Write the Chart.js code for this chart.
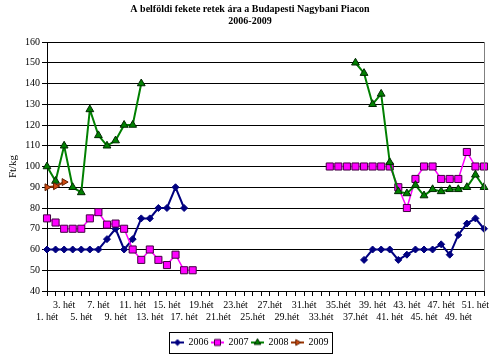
<!DOCTYPE html>
<html><head><meta charset="utf-8">
<script src="https://cdn.jsdelivr.net/npm/chart.js@4.4.0/dist/chart.umd.min.js"></script>
<style>html,body{margin:0;padding:0;background:#fff}#wrap{width:500px;height:358px}</style>
</head><body><div id="wrap"><canvas id="c" width="500" height="358"></canvas></div>
<script>
const titleLines = ["A belföldi fekete retek ára a Budapesti Nagybani Piacon", "2006-2009"];
const yTitle = "Ft/kg";
const weeks = ["1. hét","2. hét","3. hét","4. hét","5. hét","6. hét","7. hét","8. hét","9. hét","10. hét",
  "11. hét","12. hét","13. hét","14. hét","15. hét","16. hét","17. hét","18. hét","19.hét","20.hét",
  "21.hét","22.hét","23.hét","24.hét","25.hét","26.hét","27.hét","28.hét","29.hét","30.hét",
  "31.hét","32.hét","33.hét","34.hét","35.hét","36.hét","37.hét","38. hét","39. hét","40. hét",
  "41. hét","42. hét","43. hét","44. hét","45. hét","46. hét","47. hét","48. hét","49. hét","50. hét",
  "51. hét","52. hét"];
const seriesNames = ["2006","2007","2008","2009"];
const y2006 = [60,60,60,60,60,60,60,65,70,60,65,75,75,80,80,90,80,
  null,null,null,null,null,null,null,null,null,null,null,null,null,null,null,null,null,null,null,null,
  55,60,60,60,55,57.5,60,60,60,62.5,57.5,67,72.5,75,70];
const y2007 = [75,73,70,70,70,75,78,72,72.5,70,60,55,60,55,52.5,57.5,50,50,
  null,null,null,null,null,null,null,null,null,null,null,null,null,null,null,
  100,100,100,100,100,100,100,100,90,80,94,100,100,94,94,94,107,100,100];
const y2008 = [100,93,110,90,87.5,127.5,115,110,112.5,120,120,140,
  null,null,null,null,null,null,null,null,null,null,null,null,null,null,null,null,null,null,null,null,null,null,null,null,
  150,145,130,135,102,88,87,91,86,89,88,89,89,90,96,90];
const y2009 = [90,90.5,92.5,
  null,null,null,null,null,null,null,null,null,null,null,null,null,null,null,null,null,null,null,null,null,null,null,null,
  null,null,null,null,null,null,null,null,null,null,null,null,null,null,null,null,null,null,null,null,null,null,null];
const yMin = 40, yMax = 160, yStep = 10;

Chart.defaults.font.family = "'Liberation Serif', 'Times New Roman', serif";
Chart.defaults.color = '#000';

const styles = [
  {line:'#000080', lw:2, ps:'rectRot', r:3.5, bg:'#000080', bd:'#000080', rot:0},
  {line:'#FF00FF', lw:1.5, ps:'rect', r:5, bg:'#FF00FF', bd:'#400040', rot:0},
  {line:'#008000', lw:2, ps:'triangle', r:4.5, bg:'#008000', bd:'#002800', rot:0},
  {line:'#993300', lw:2, ps:'triangle', r:4, bg:'#D04A10', bd:'#602000', rot:90}
];
const allData = [y2006, y2007, y2008, y2009];

function makeIcon(s) {
  const c = document.createElement('canvas'); c.width = 13; c.height = 10;
  const g = c.getContext('2d');
  g.strokeStyle = s.line; g.lineWidth = 2;
  g.beginPath(); g.moveTo(0,5); g.lineTo(13,5); g.stroke();
  g.fillStyle = s.bg; g.strokeStyle = s.bd; g.lineWidth = 1;
  Chart.helpers.drawPoint(g, {pointStyle: s.ps, radius: s.r*0.85, rotation: s.rot, borderWidth: 1}, 6.5, 5);
  return c;
}

const datasets = allData.map((d, i) => ({
  label: seriesNames[i], data: d,
  borderColor: styles[i].line, borderWidth: styles[i].lw, backgroundColor: styles[i].bg,
  pointStyle: styles[i].ps, pointRadius: styles[i].r, pointRotation: styles[i].rot,
  pointBackgroundColor: styles[i].bg, pointBorderColor: styles[i].bd, pointBorderWidth: 1,
  tension: 0, fill: false, spanGaps: false, order: 4 - i
}));

const SHIFT = 8;
const deco = {
  id: 'deco',
  afterLayout(chart) {
    const lg = chart.legend;
    if (lg) {
      lg.left += SHIFT; lg.right += SHIFT;
      (lg.legendHitBoxes || []).forEach(h => { h.left += SHIFT; });
    }
    const tt = chart.titleBlock;
    if (tt) { tt.left += SHIFT; tt.right += SHIFT; }
  },
  afterDraw(chart) {
    const ctx = chart.ctx, a = chart.chartArea;
    ctx.save();
    ctx.strokeStyle = '#808080'; ctx.lineWidth = 1;
    ctx.beginPath(); ctx.moveTo(Math.round(a.right) + 0.5, a.top); ctx.lineTo(Math.round(a.right) + 0.5, a.bottom); ctx.stroke();
    const hb = chart.legend.legendHitBoxes;
    if (hb && hb.length) {
      const l = Math.min(...hb.map(h => h.left)) - 3;
      const r = Math.max(...hb.map(h => h.left + h.width)) + 3;
      const cy = hb[0].top + hb[0].height / 2;
      ctx.strokeStyle = '#000';
      ctx.strokeRect(Math.round(l) + 0.5, Math.round(cy - 10.5) + 0.5, Math.round(r - l), 21);
    }
    ctx.restore();
  }
};

new Chart(document.getElementById('c'), {
  type: 'line',
  data: { labels: weeks, datasets },
  plugins: [deco],
  options: {
    responsive: false, animation: false, devicePixelRatio: 1,
    layout: { padding: { left: 0, right: 16, top: 0, bottom: 0.5 } },
    plugins: {
      title: { display: true, text: titleLines, color: '#000',
        font: { size: 10, weight: 'bold', lineHeight: 1.2 }, padding: { top: 3.5, bottom: 14.5 } },
      legend: { position: 'bottom',
        labels: { usePointStyle: true, pointStyleWidth: 12, padding: 3, font: { size: 10 }, color: '#000',
          generateLabels(chart) {
            return chart.data.datasets.map((ds, i) => ({
              text: ds.label, pointStyle: makeIcon(styles[i]), fillStyle: styles[i].bg,
              strokeStyle: styles[i].line, lineWidth: 0, hidden: false, datasetIndex: i, fontColor: '#000'
            }));
          } } },
      tooltip: { enabled: false }
    },
    scales: {
      x: { type: 'category', offset: false,
        grid: { display: true, drawOnChartArea: false, drawTicks: true, tickLength: 5, color: '#000', offset: false },
        border: { display: true, color: '#000', width: 1 },
        ticks: { autoSkip: false, maxRotation: 0, minRotation: 0, padding: 3, font: { size: 10 }, color: '#000',
          callback(v, i) {
            const w = i + 1, lab = this.getLabelForValue(v);
            if (w % 4 === 3) return [lab, ''];
            if (w % 4 === 1) return ['', lab];
            return '';
          } },
        afterFit(s) { s.height = 43.5; }
      },
      y: { min: yMin, max: yMax,
        ticks: { stepSize: yStep, padding: 2, font: { size: 10 }, color: '#000' },
        grid: { color: '#000', tickLength: 5, drawTicks: true },
        border: { color: '#000', width: 1 },
        title: { display: true, text: yTitle, font: { size: 11 }, color: '#000', padding: { top: 7, bottom: 0 } },
        afterFit(s) { s.width = 47; }
      }
    }
  }
});
</script></body></html>
